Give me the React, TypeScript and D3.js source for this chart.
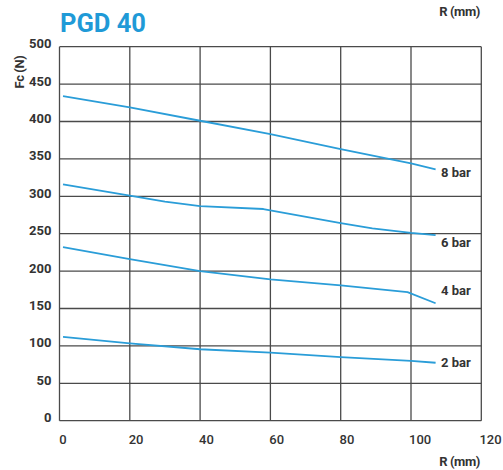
import React from "react";
import * as d3 from "d3";

const xTicks = [0, 20, 40, 60, 80, 100, 120];
const yTicks = [0, 50, 100, 150, 200, 250, 300, 350, 400, 450, 500];

const r8 = [1, 20, 40, 60, 80, 100, 107];
const fc8 = [434, 419, 401, 383, 363, 344, 336];
const r6 = [1, 20, 30, 40, 58, 80, 89, 100, 107];
const fc6 = [316, 301, 293, 287, 283, 264, 257, 251, 248];
const r4 = [1, 20, 40, 60, 80, 99, 107];
const fc4 = [232, 216, 200, 189, 181, 172, 157];
const r2 = [1, 20, 40, 60, 80, 100, 107];
const fc2 = [112, 103.5, 95.5, 91, 85, 80, 77.5];

const seriesLabels = ["8 bar", "6 bar", "4 bar", "2 bar"];
const labelValues = [331, 238, 174, 76.5];

const W = 503, H = 470;
const left = 59.5, right = 481.3, top = 46.7, bottom = 420.7;
const BLUE = "#2a9dd8";
const TXT = "#333";
const FONT = "Roboto, 'Noto Sans', sans-serif";

export default function App() {
  const x = d3.scaleLinear().domain([0, 120]).range([left, right]);
  const y = d3.scaleLinear().domain([0, 500]).range([bottom, top]);
  const line = d3.line<[number, number]>().x(d => x(d[0])).y(d => y(d[1])).curve(d3.curveLinear);
  const series = [
    [r8, fc8],
    [r6, fc6],
    [r4, fc4],
    [r2, fc2],
  ].map(([rs, fs]) => rs.map((r, i) => [r, fs[i]] as [number, number]));

  return (
    <svg width={W} height={H} style={{ position: "absolute", left: 0, top: 0 }} fontFamily={FONT}>
      <rect x={0} y={0} width={W} height={H} fill="#fff" />
      {xTicks.map(t => (
        <line key={"gx" + t} x1={x(t)} x2={x(t)} y1={top} y2={bottom} stroke="#4a4a4a" strokeWidth={1.3} />
      ))}
      {yTicks.map(t => (
        <line key={"gy" + t} x1={left} x2={right} y1={y(t)} y2={y(t)} stroke="#4a4a4a" strokeWidth={1.3} />
      ))}
      {series.map((s, i) => (
        <path key={"s" + i} d={line(s) || ""} fill="none" stroke={BLUE} strokeWidth={1.8} strokeLinejoin="round" />
      ))}
      {seriesLabels.map((l, i) => (
        <text key={"l" + i} x={441} y={y(labelValues[i]) + 4} fontSize={13} fontWeight={700} fill={TXT}>{l}</text>
      ))}
      {yTicks.map(t => (
        <text key={"ty" + t} x={51.5} y={y(t) + 1.5} textAnchor="end" fontSize={13} fontWeight={700} fill={TXT}>{t}</text>
      ))}
      {xTicks.map(t => (
        <text key={"tx" + t} x={x(t) - String(t).length * 0.8 + 0.5} y={444} textAnchor="start" fontSize={13} fontWeight={500} fill={TXT}>{t}</text>
      ))}
      <text x={480} y={15.5} textAnchor="end" fontSize={13} fontWeight={700} fill={TXT} letterSpacing={-0.4}>R (mm)</text>
      <text x={480} y={466} textAnchor="end" fontSize={13} fontWeight={700} fill={TXT} letterSpacing={-0.4}>R (mm)</text>
      <text transform="translate(24,72) rotate(-90)" textAnchor="middle" fontSize={13} fontWeight={700} fill={TXT} letterSpacing={-0.4}>Fc (N)</text>
      <text x={60} y={31.7} fontSize={25.5} fontWeight={700} fill="#1f9ad7">PGD 40</text>
    </svg>
  );
}
